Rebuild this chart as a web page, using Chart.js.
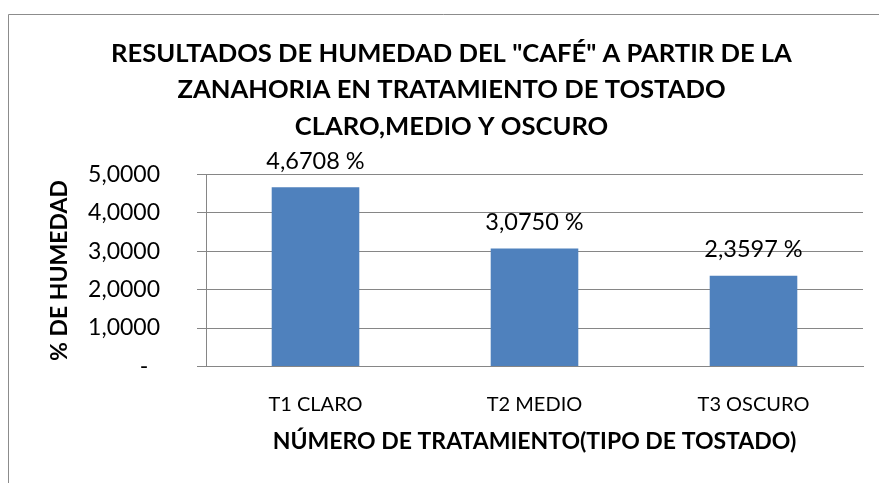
<!DOCTYPE html>
<html>
<head>
<meta charset="utf-8">
<script src="https://cdn.jsdelivr.net/npm/chart.js@4.4.1/dist/chart.umd.min.js"></script>
<style>
    html, body { margin: 0; padding: 0; background: #ffffff; }
    #wrap { position: relative; width: 879px; height: 483px; }
</style>
</head>
<body>
<div id="wrap"><canvas id="chart"></canvas></div>
<script>
// Datos del gráfico
const categories  = ["T1 CLARO", "T2 MEDIO", "T3 OSCURO"];
const humedad     = [4.6708, 3.0750, 2.3597];
const yTickLabels = ["-  ", "1,0000", "2,0000", "3,0000", "4,0000", "5,0000"];
const titleLines  = ['RESULTADOS DE HUMEDAD DEL "CAFÉ" A PARTIR DE LA', "ZANAHORIA EN TRATAMIENTO DE TOSTADO", "CLARO,MEDIO Y OSCURO"];

const FONT = "Lato, 'Open Sans', sans-serif";

// Marco gris (solo borde izquierdo y superior visibles)
const framePlugin = {
    id: "frame",
    beforeDraw (chart) {
        const ctx = chart.ctx;
        ctx.save();
        ctx.fillStyle = "#ffffff";
        ctx.fillRect(0, 0, chart.width, chart.height);
        ctx.strokeStyle = "#8c8c8c";
        ctx.lineWidth = 1;
        ctx.beginPath();
        ctx.moveTo(8.5, chart.height);
        ctx.lineTo(8.5, 14.5);
        ctx.lineTo(chart.width, 14.5);
        ctx.stroke();
        ctx.restore();
    }
};

// Etiquetas de datos sobre las barras
const valueLabels = {
    id: "valueLabels",
    afterDatasetsDraw (chart) {
        const ctx = chart.ctx;
        const meta = chart.getDatasetMeta(0);
        ctx.save();
        ctx.font = "23.5px " + FONT;
        ctx.fillStyle = "#000000";
        ctx.textAlign = "center";
        ctx.textBaseline = "middle";
        meta.data.forEach((bar, i) => {
            const txt = humedad[i].toFixed(4).replace(".", ",") + " %";
            ctx.fillText(txt, bar.x, bar.y - 26);
        });
        ctx.restore();
    }
};

new Chart(document.getElementById("chart"), {
    type: "bar",
    data: {
        labels: categories,
        datasets: [{
            data: humedad,
            backgroundColor: "#4f81bd",
            borderWidth: 0,
            barPercentage: 0.4,
            categoryPercentage: 1.0
        }]
    },
    options: {
        responsive: true,
        maintainAspectRatio: false,
        animation: false,
        layout: { padding: { left: 40, right: 16, top: 35, bottom: 28 } },
        plugins: {
            legend: { display: false },
            tooltip: { enabled: false },
            title: {
                display: true,
                text: titleLines,
                color: "#000000",
                font: { family: FONT, size: 25.6, weight: "bold", lineHeight: 1.426 },
                padding: { top: 0, bottom: 30 }
            }
        },
        scales: {
            x: {
                grid: { display: false, drawTicks: false },
                border: { display: true, color: "#868686" },
                ticks: { color: "#000000", font: { family: FONT, size: 20 }, padding: 26 },
                title: {
                    display: true,
                    text: "NÚMERO DE TRATAMIENTO(TIPO DE TOSTADO)",
                    color: "#000000",
                    font: { family: FONT, size: 23, weight: "bold" },
                    // la escala reserva el doble del padding de los ticks
                    padding: { top: -15, bottom: 0 }
                }
            },
            y: {
                min: 0,
                max: 5,
                afterFit (scale) { scale.width = 166; },
                grid: { color: "#868686", tickLength: 9, drawTicks: true },
                border: { display: true, color: "#868686" },
                ticks: {
                    stepSize: 1,
                    color: "#000000",
                    font: { family: FONT, size: 23 },
                    padding: 37,
                    callback: (value, index) => yTickLabels[index]
                },
                title: {
                    display: true,
                    text: "% DE HUMEDAD",
                    color: "#000000",
                    font: { family: FONT, size: 23, weight: "bold" },
                    padding: { top: 6, bottom: 0 }
                }
            }
        }
    },
    plugins: [framePlugin, valueLabels]
});
</script>
</body>
</html>
